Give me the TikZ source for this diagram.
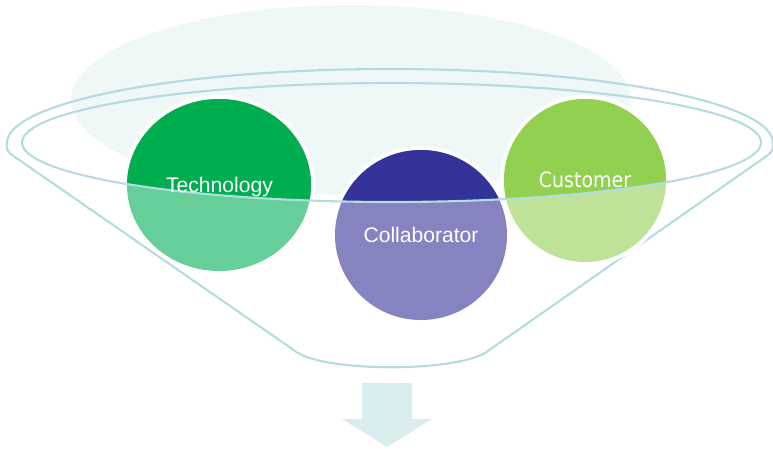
\documentclass[tikz,border=0pt]{standalone}
\usepackage{fontspec}
\setmainfont{Liberation Sans}
\newfontfamily\custfont{DejaVu Sans Condensed}

\definecolor{paleback}{RGB}{239,247,247}
\definecolor{rimblue}{RGB}{180,220,224}
\definecolor{arrowfill}{RGB}{217,237,239}
\definecolor{techdark}{RGB}{0,174,79}
\definecolor{techlight}{RGB}{102,206,152}
\definecolor{collabdark}{RGB}{51,51,153}
\definecolor{collablight}{RGB}{133,131,192}
\definecolor{custdark}{RGB}{146,208,80}
\definecolor{custlight}{RGB}{190,226,151}

\tikzset{
  rim/.style={draw=rimblue,line width=1.2pt},
  ballname/.style={text=white,anchor=base,inner sep=0pt,font=\fontsize{12}{14}\selectfont}
}

\begin{document}
\begin{tikzpicture}[x=0.02cm,y=-0.02cm]
\useasboundingbox (0,0) rectangle (773,450);

% pale ellipse behind the funnel
\fill[paleback] (351,100) ellipse [x radius=280, y radius=95];

% funnel
\draw[rim] (12,155) .. controls (6,151) and (6,146) .. (7,143)
  arc [start angle=180, end angle=360, x radius=383, y radius=74]
  .. controls (774,147) and (772,152) .. (768,155);
\draw[rim] (12,155) -- (298,353) .. controls (330,372) and (452,372) .. (485,353) -- (768,155);

% Technology
\fill[white] (219,185) ellipse [x radius=96, y radius=90];
\fill[techlight] (219,185) ellipse [x radius=92, y radius=86];
\begin{scope}
\clip (391.5,142.5) ellipse [x radius=369.5, y radius=59.5];
\fill[techdark] (219,185) ellipse [x radius=92, y radius=86];
\end{scope}

% Collaborator
\fill[white] (421,235) ellipse [x radius=90, y radius=89];
\fill[collablight] (421,235) ellipse [x radius=86, y radius=85];
\begin{scope}
\clip (391.5,142.5) ellipse [x radius=369.5, y radius=59.5];
\fill[collabdark] (421,235) ellipse [x radius=86, y radius=85];
\end{scope}

% Customer
\fill[white] (585,180.5) ellipse [x radius=85, y radius=85.5];
\fill[custlight] (585,180.5) ellipse [x radius=81, y radius=81.5];
\begin{scope}
\clip (391.5,142.5) ellipse [x radius=369.5, y radius=59.5];
\fill[custdark] (585,180.5) ellipse [x radius=81, y radius=81.5];
\end{scope}

% inner rim over the balls
\draw[rim] (391.5,142.5) ellipse [x radius=369.5, y radius=59.5];

\node[ballname] (technology) at (219.5,192) {Technology};
\node[ballname] (collaborator) at (421,242) {Collaborator};
\node[ballname,font=\custfont\fontsize{12}{14}\selectfont] (customer) at (585,187) {Customer};

% arrow out of the funnel
\fill[arrowfill] (362,383) -- (412,383) -- (412,419) -- (432,419) -- (387,447)
  -- (342,419) -- (362,419) -- cycle;
\end{tikzpicture}
\end{document}
